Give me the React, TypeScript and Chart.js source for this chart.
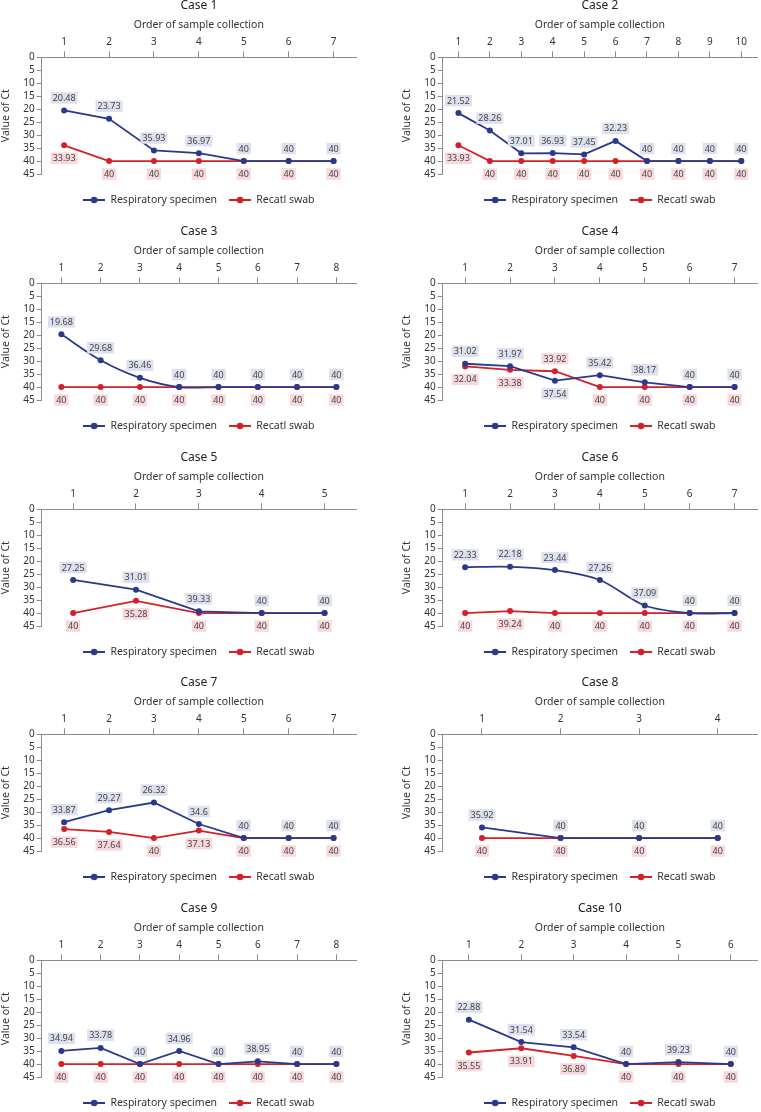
import React, { useEffect, useRef } from 'react';
import { Chart, registerables } from 'chart.js';

Chart.register(...registerables);

// ---------- data ----------
const caseTitles = ['Case 1', 'Case 2', 'Case 3', 'Case 4', 'Case 5', 'Case 6', 'Case 7', 'Case 8', 'Case 9', 'Case 10'];
const seriesNames = ['Respiratory specimen', 'Recatl swab'];
const xAxisTitle = 'Order of sample collection';
const yAxisTitle = 'Value of Ct';
const yMin = 0;
const yMax = 45;
const yStep = 5;

const resp1 = [20.48, 23.73, 35.93, 36.97, 40, 40, 40];
const rec1 = [33.93, 40, 40, 40, 40, 40, 40];
const resp2 = [21.52, 28.26, 37.01, 36.93, 37.45, 32.23, 40, 40, 40, 40];
const rec2 = [33.93, 40, 40, 40, 40, 40, 40, 40, 40, 40];
const resp3 = [19.68, 29.68, 36.46, 40, 40, 40, 40, 40];
const rec3 = [40, 40, 40, 40, 40, 40, 40, 40];
const resp4 = [31.02, 31.97, 37.54, 35.42, 38.17, 40, 40];
const rec4 = [32.04, 33.38, 33.92, 40, 40, 40, 40];
const resp5 = [27.25, 31.01, 39.33, 40, 40];
const rec5 = [40, 35.28, 40, 40, 40];
const resp6 = [22.33, 22.18, 23.44, 27.26, 37.09, 40, 40];
const rec6 = [40, 39.24, 40, 40, 40, 40, 40];
const resp7 = [33.87, 29.27, 26.32, 34.6, 40, 40, 40];
const rec7 = [36.56, 37.64, 40, 37.13, 40, 40, 40];
const resp8 = [35.92, 40, 40, 40];
const rec8 = [40, 40, 40, 40];
const resp9 = [34.94, 33.78, 40, 34.96, 40, 38.95, 40, 40];
const rec9 = [40, 40, 40, 40, 40, 40, 40, 40];
const resp10 = [22.88, 31.54, 33.54, 40, 39.23, 40];
const rec10 = [35.55, 33.91, 36.89, 40, 40, 40];

const respData = [resp1, resp2, resp3, resp4, resp5, resp6, resp7, resp8, resp9, resp10];
const recData = [rec1, rec2, rec3, rec4, rec5, rec6, rec7, rec8, rec9, rec10];

// label placement (a = above point, b = below point); default: respiratory above, rectal below
const respLabelPos4 = ['a', 'a', 'b', 'a', 'a', 'a', 'a'];
const recLabelPos4 = ['b', 'b', 'a', 'b', 'b', 'b', 'b'];

// ---------- style ----------
const FONT = 'Noto Sans';
const BLUE = '#293a8e';
const RED = '#d42027';
const BLUE_BG = '#dde0ee';
const RED_BG = '#f9d8db';
const AXIS = '#8c8c8c';
const TEXT = '#333333';
const CANVAS_W = 360;
const CANVAS_H = 225;
const ROW_STEP = 225.75;
const smoothCases = [2, 5];

function makeLegendIcon(color: string) {
  const c = document.createElement('canvas');
  c.width = 22;
  c.height = 8;
  const g = c.getContext('2d')!;
  g.strokeStyle = color;
  g.lineWidth = 2;
  g.beginPath();
  g.moveTo(0, 4);
  g.lineTo(22, 4);
  g.stroke();
  g.fillStyle = color;
  g.beginPath();
  g.arc(11, 4, 3.3, 0, Math.PI * 2);
  g.fill();
  return c;
}

function makeLabelPlugin(positions: string[][], bgs: string[]) {
  return {
    id: 'ctLabels',
    afterDatasetsDraw(chart: any) {
      const ctx = chart.ctx;
      ctx.save();
      ctx.font = `9px "${FONT}"`;
      ctx.textAlign = 'center';
      ctx.textBaseline = 'middle';
      chart.data.datasets.forEach((ds: any, di: number) => {
        const meta = chart.getDatasetMeta(di);
        meta.data.forEach((pt: any, i: number) => {
          const text = String(ds.data[i]);
          const above = positions[di][i] === 'a';
          const cy = pt.y + (above ? -12.5 : 13);
          const w = ctx.measureText(text).width + 4;
          const h = 11.5;
          ctx.fillStyle = bgs[di];
          ctx.fillRect(pt.x - w / 2, cy - h / 2, w, h);
          ctx.fillStyle = '#444444';
          ctx.fillText(text, pt.x, cy + 0.5);
        });
      });
      ctx.restore();
    },
  };
}

function Panel({ index }: { index: number }) {
  const ref = useRef<HTMLCanvasElement | null>(null);
  useEffect(() => {
    const canvas = ref.current;
    if (!canvas) return;
    const resp = respData[index];
    const rec = recData[index];
    const labels = resp.map((_, i) => String(i + 1));
    const respPos = index === 3 ? respLabelPos4 : resp.map(() => 'a');
    const recPos = index === 3 ? recLabelPos4 : rec.map(() => 'b');
    const icons = [makeLegendIcon(BLUE), makeLegendIcon(RED)];
    const tension = smoothCases.includes(index) ? 0.3 : 0;

    const chart = new Chart(canvas, {
      type: 'line',
      data: {
        labels,
        datasets: [
          {
            label: seriesNames[0],
            data: resp,
            borderColor: BLUE,
            backgroundColor: BLUE,
            pointBackgroundColor: BLUE,
            pointBorderColor: BLUE,
            borderWidth: 1.8,
            pointRadius: 3,
            pointBorderWidth: 0,
            tension,
          },
          {
            label: seriesNames[1],
            data: rec,
            borderColor: RED,
            backgroundColor: RED,
            pointBackgroundColor: RED,
            pointBorderColor: RED,
            borderWidth: 1.8,
            pointRadius: 3,
            pointBorderWidth: 0,
            tension: 0,
          },
        ],
      },
      options: {
        animation: false,
        responsive: false,
        layout: { padding: { left: 0, right: 2, top: 0, bottom: 9.75 } },
        scales: {
          x: {
            type: 'category',
            position: 'top',
            offset: true,
            title: {
              display: true,
              text: xAxisTitle,
              font: { family: FONT, size: 10.5 },
              color: TEXT,
              padding: { top: 6.7, bottom: 0 },
            },
            ticks: { font: { family: FONT, size: 10 }, color: TEXT, padding: 3, maxRotation: 0, autoSkip: false },
            grid: { display: true, drawOnChartArea: false, drawTicks: true, tickLength: 6, color: AXIS, lineWidth: 1 },
            border: { display: true, color: AXIS, width: 1 },
            afterFit: (s: any) => {
              s.height = 45.3;
            },
          },
          y: {
            type: 'linear',
            reverse: true,
            min: yMin,
            max: yMax,
            ticks: { stepSize: yStep, autoSkip: false, font: { family: FONT, size: 10 }, color: TEXT, padding: 2 },
            title: {
              display: true,
              text: yAxisTitle,
              font: { family: FONT, size: 10.5 },
              color: TEXT,
              padding: 0,
            },
            grid: { display: true, drawOnChartArea: false, drawTicks: true, tickLength: 5, color: AXIS, lineWidth: 1 },
            border: { display: true, color: AXIS, width: 1 },
            afterFit: (s: any) => {
              s.width = 41.7;
            },
          },
        },
        plugins: {
          title: {
            display: true,
            text: caseTitles[index],
            font: { family: FONT, size: 12, lineHeight: 1, weight: 'normal' },
            color: '#222222',
            padding: 0,
            fullSize: false,
          },
          legend: {
            display: true,
            position: 'bottom',
            fullSize: false,
            title: {
              display: true,
              text: ' ',
              font: { size: 1, lineHeight: 1 },
              padding: { top: 7.75, bottom: 0 },
            },
            labels: {
              usePointStyle: true,
              pointStyleWidth: 22,
              padding: 12,
              font: { family: FONT, size: 10.5 },
              color: TEXT,
              generateLabels: (c: any) =>
                c.data.datasets.map((ds: any, i: number) => ({
                  text: ds.label,
                  pointStyle: icons[i],
                  fillStyle: ds.borderColor,
                  strokeStyle: ds.borderColor,
                  lineWidth: 0,
                  hidden: false,
                  datasetIndex: i,
                  fontColor: TEXT,
                })),
            },
          },
          tooltip: { enabled: false },
        },
      } as any,
      plugins: [makeLabelPlugin([respPos, recPos], [BLUE_BG, RED_BG])],
    });
    return () => chart.destroy();
  }, [index]);

  const row = Math.floor(index / 2);
  const col = index % 2;
  return (
    <canvas
      ref={ref}
      width={CANVAS_W}
      height={CANVAS_H}
      style={{
        position: 'absolute',
        left: col === 0 ? 0 : 401,
        top: Math.round(row * ROW_STEP),
        width: CANVAS_W,
        height: CANVAS_H,
      }}
    />
  );
}

export default function App() {
  return (
    <div style={{ position: 'absolute', left: 0, top: 0, width: 761, height: 1112, background: '#ffffff' }}>
      {caseTitles.map((_, i) => (
        <Panel key={i} index={i} />
      ))}
    </div>
  );
}
